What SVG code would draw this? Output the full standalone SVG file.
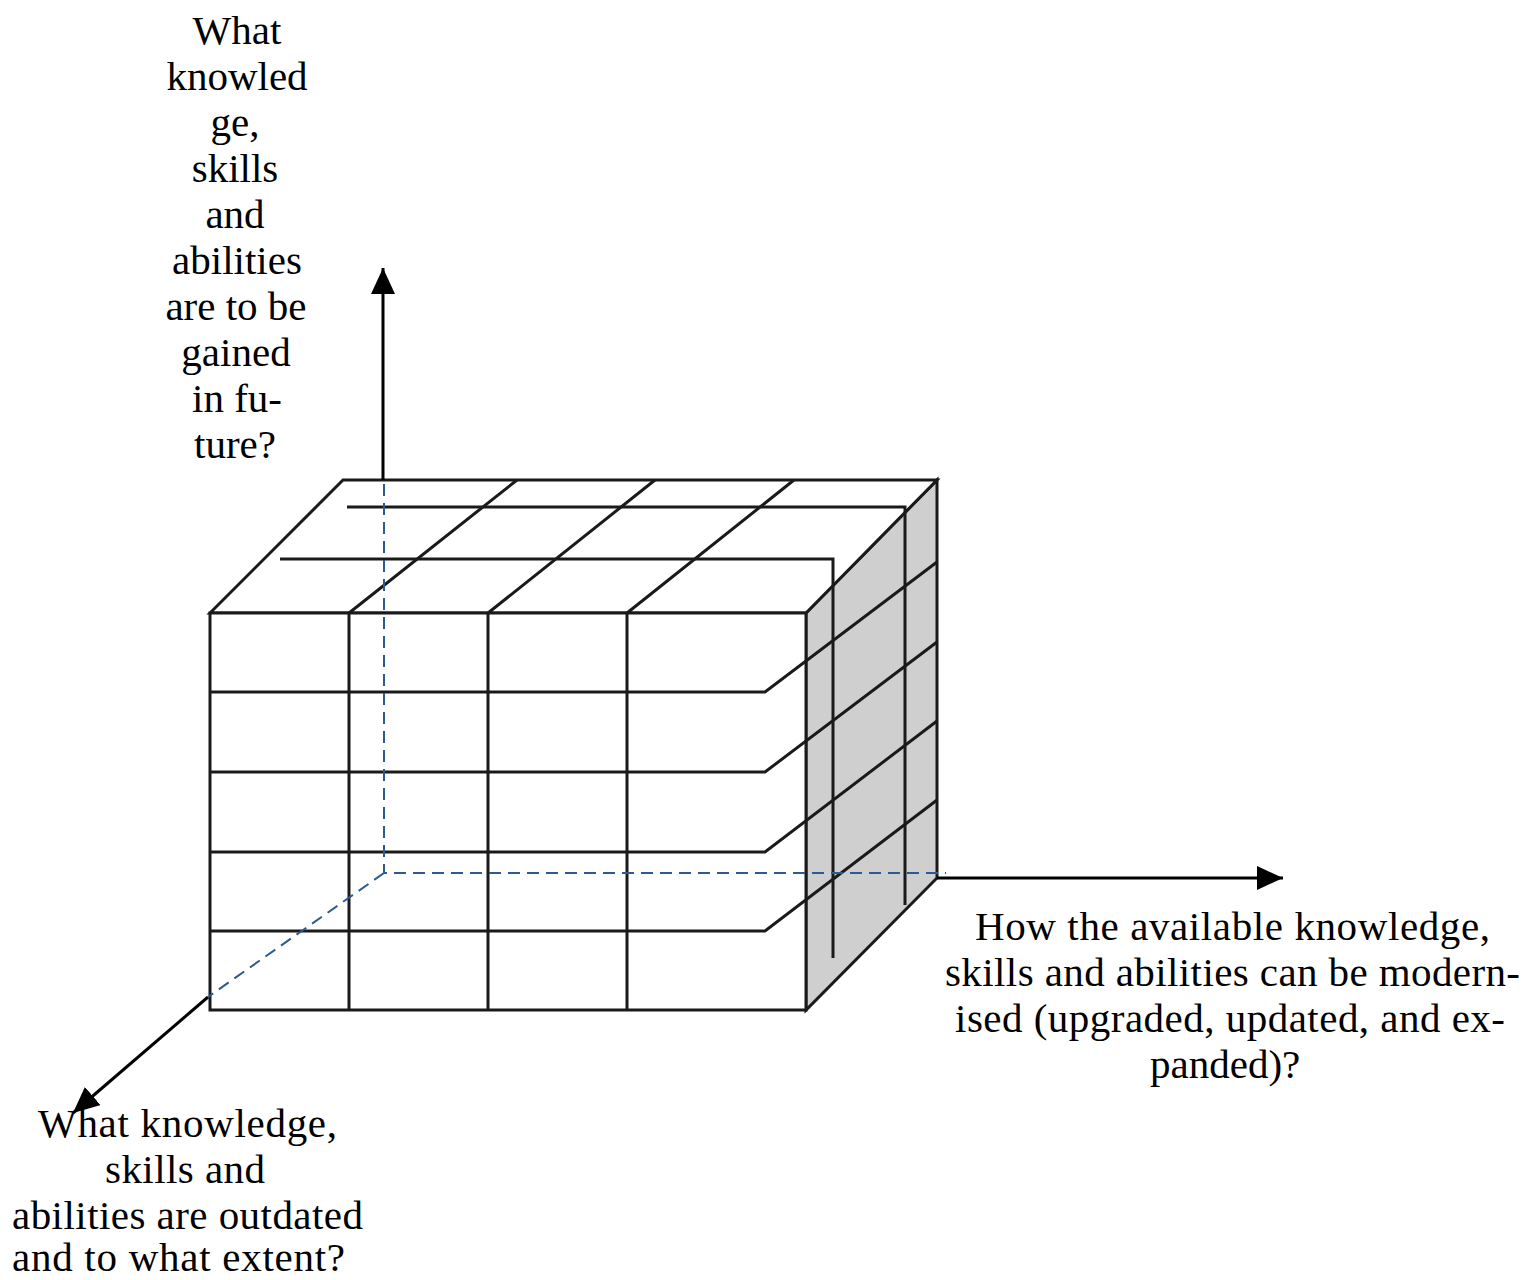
<svg xmlns="http://www.w3.org/2000/svg" width="1539" height="1280" viewBox="0 0 1539 1280">
<defs>
<style>
.ln{stroke:#1a1a1a;stroke-width:3;fill:none;stroke-linejoin:miter}
.face{stroke:#1a1a1a;stroke-width:3}
.dash{stroke:#2c5a91;stroke-width:2;fill:none;stroke-dasharray:12 7}
.ax{stroke:#000;stroke-width:3;fill:none}
text{font-family:"Liberation Serif","Times New Roman",serif;font-size:41px;fill:#000}
</style>
<marker id="ah" markerUnits="userSpaceOnUse" markerWidth="28" markerHeight="26" refX="26" refY="12" orient="auto" viewBox="0 0 28 26"><path d="M0,0 L26,12 L0,24 z" fill="#000"/></marker>
</defs>
<rect width="1539" height="1280" fill="#fff"/>
<g id="cube">
<polygon class="face" points="806,613 937,480 937,878 806,1010" fill="#cfcfcf"/>
<polygon class="face" points="210,613 343,480 937,480 806,613" fill="#fff"/>
<rect class="face" x="210" y="613" width="596" height="397" fill="#fff"/>
<path class="ln" d="M349,613 L517,480 M488,613 L655,480 M627,613 L794,480"/>
<path class="ln" d="M347,507 L905,507 L905,905 M280,559 L833,559 L833,958"/>
<path class="ln" d="M349,613 V1010 M488,613 V1010 M627,613 V1010"/>
<path class="ln" d="M210,692 H765 L937,562 M210,772 H765 L937,642 M210,852 H765 L937,721 M210,931 H765 L937,800"/>
</g>
<g id="connectors">
<line class="ax" x1="383" y1="480" x2="383" y2="268" marker-end="url(#ah)"/>
<line class="ax" x1="937" y1="878" x2="1283" y2="878" marker-end="url(#ah)"/>
<line class="ax" x1="208" y1="997" x2="73" y2="1113" marker-end="url(#ah)"/>
<path class="dash" d="M384,484 V873 H946 M384,873 L208,997"/>
</g>
<g id="label-up" text-anchor="middle">
<text x="237" y="44">What</text>
<text x="237" y="90">knowled</text>
<text x="235" y="136">ge,</text>
<text x="235" y="182">skills</text>
<text x="235" y="228">and</text>
<text x="237" y="274">abilities</text>
<text x="236" y="320">are to be</text>
<text x="236" y="366">gained</text>
<text x="237" y="412">in fu-</text>
<text x="235" y="458">ture?</text>
</g>
<g id="label-right">
<text x="975" y="940" textLength="515" lengthAdjust="spacing">How the available knowledge,</text>
<text x="945" y="986" textLength="575" lengthAdjust="spacing">skills and abilities can be modern-</text>
<text x="955" y="1032" textLength="550" lengthAdjust="spacing">ised (upgraded, updated, and ex-</text>
<text x="1150" y="1078">panded)?</text>
</g>
<g id="label-left">
<text x="38" y="1137" textLength="299" lengthAdjust="spacing">What knowledge,</text>
<text x="105" y="1183" textLength="160" lengthAdjust="spacing">skills and</text>
<text x="12" y="1229" textLength="351" lengthAdjust="spacing">abilities are outdated</text>
<text x="12" y="1271" textLength="333" lengthAdjust="spacing">and to what extent?</text>
</g>
</svg>
